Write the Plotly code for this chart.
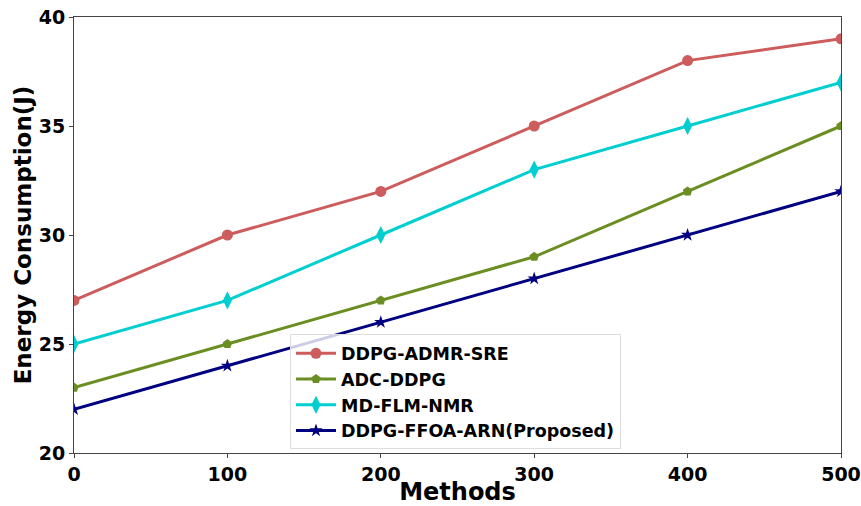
import plotly.graph_objects as go

x_vals = [0, 100, 200, 300, 400, 500]
ddpg_admr_sre = [27, 30, 32, 35, 38, 39]
adc_ddpg = [23, 25, 27, 29, 32, 35]
md_flm_nmr = [25, 27, 30, 33, 35, 37]
ddpg_ffoa_arn = [22, 24, 26, 28, 30, 32]
y_ticks = [20, 25, 30, 35, 40]

series = [
    ("DDPG-ADMR-SRE", ddpg_admr_sre, "#CD5C5C", "circle", 11),
    ("ADC-DDPG", adc_ddpg, "#6B8E23", "pentagon", 10),
    ("MD-FLM-NMR", md_flm_nmr, "#00CED1", "diamond-tall", 13),
    ("DDPG-FFOA-ARN(Proposed)", ddpg_ffoa_arn, "#000080", "star", 10),
]

fig = go.Figure()
for name, ys, color, sym, size in series:
    fig.add_trace(go.Scatter(
        x=x_vals, y=ys, name=name, mode="lines+markers",
        line=dict(color=color, width=3),
        marker=dict(symbol=sym, size=size, color=color),
    ))

font_family = "DejaVu Sans"
fig.update_layout(
    width=861, height=506,
    margin=dict(l=74, r=20, t=17, b=53, autoexpand=False),
    plot_bgcolor="white", paper_bgcolor="white",
    font=dict(family=font_family, color="black"),
    legend=dict(
        x=0.2816, y=0.272, xanchor="left", yanchor="top",
        font=dict(size=17.5, family=font_family, weight="bold"),
        bgcolor="rgba(255,255,255,0.8)", bordercolor="#dddddd", borderwidth=1,
        tracegroupgap=0, itemwidth=40,
    ),
    showlegend=True,
)
fig.update_xaxes(
    range=[0, 500], tickvals=x_vals, showgrid=False, zeroline=False,
    showline=True, linecolor="#444444", linewidth=1, mirror=True,
    ticks="outside", ticklen=4, tickcolor="#444444", automargin=False,
    tickfont=dict(size=19, family=font_family, weight="bold"),
    title=dict(text="Methods", font=dict(size=24, family=font_family, weight="bold"), standoff=7),
)
fig.update_yaxes(
    range=[20, 40], tickvals=y_ticks, showgrid=False, zeroline=False,
    showline=True, linecolor="#444444", linewidth=1, mirror=True,
    ticks="outside", ticklen=4, tickcolor="#444444", automargin=False,
    tickfont=dict(size=19, family=font_family, weight="bold"),
    title=dict(text="Energy Consumption(J)", font=dict(size=23, family=font_family, weight="bold"), standoff=0),
)

fig.write_html(
    "out.html",
    config={"displayModeBar": False},
    post_script="document.body.style.margin='0px';document.body.style.overflow='hidden';",
)
